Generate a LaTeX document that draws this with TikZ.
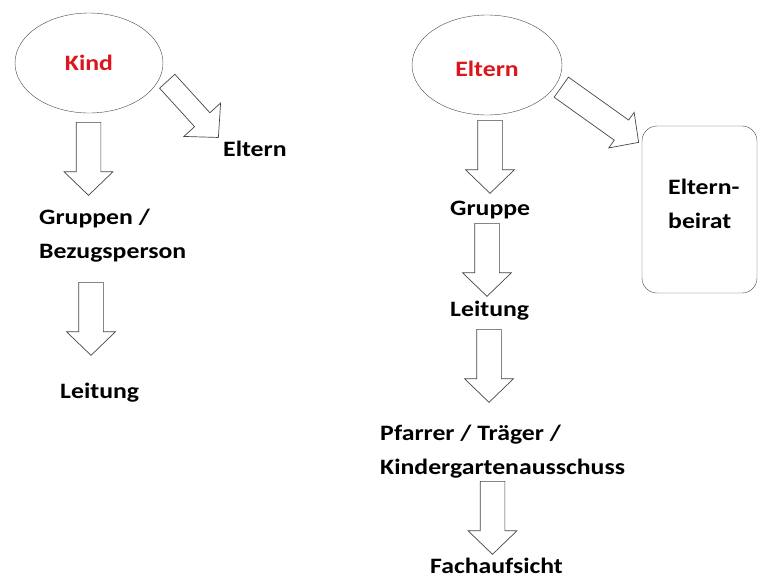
\documentclass[tikz,border=0pt]{standalone}
\usepackage{fontspec}
\setmainfont{Carlito}[FakeStretch=1.17]
\usetikzlibrary{shapes.geometric,shapes.arrows}

\definecolor{kindred}{RGB}{220,22,28}
\definecolor{umriss}{RGB}{70,70,70}

\tikzset{
  wort/.style={font=\fontsize{22}{34}\selectfont\bfseries, inner sep=0pt, align=left},
  blase/.style={ellipse, draw=umriss, wort, text=kindred},
  blockpfeil/.style={single arrow, draw=umriss, line width=0.7pt, fill=white, inner xsep=0pt,
    single arrow head indent=0pt, single arrow tip angle=92, anchor=tail}
}

\begin{document}
\begin{tikzpicture}[x=1pt,y=-1pt]

\useasboundingbox (0,0) rectangle (760,579);

\node[blase, minimum width=148pt, minimum height=100pt] (kind) at (89,63) {Kind};
\node[blase, minimum width=150pt, minimum height=100pt] (eltern) at (487,65) {};
\node[wort, text=kindred, anchor=base] (elterntext) at (487,76) {Eltern};

\node[draw=umriss, rounded corners=15pt, minimum width=115pt, minimum height=167pt]
    (beirat) at (699.5,209.5) {};
\node[wort, anchor=base west] (beirattext) at (668,228) {Eltern-\\beirat};

\node[wort, anchor=base west] (elternL) at (223,156) {Eltern};
\node[wort, anchor=base west] (gruppen) at (39,258) {Gruppen /\\Bezugsperson};
\node[wort, anchor=base west] (leitungL) at (60,398) {Leitung};

\node[wort, anchor=base west] (gruppe) at (450,215) {Gruppe};
\node[wort, anchor=base west] (leitungR) at (450,316) {Leitung};
\node[wort, anchor=base west] (pfarrer) at (380,474) {Pfarrer / Träger /\\Kindergartenausschuss};
\node[wort, anchor=base west] (fach) at (430,573) {Fachaufsicht};

\foreach \n/\x/\y in {kindpfeil/88.5/122, gruppenpfeil/91/282, elternpfeil/490/120,
                      gruppepfeil/487/223, leitungpfeil/489/329, pfarrerpfeil/492.5/481}
    \node[blockpfeil, rotate=-90, minimum height=73pt, inner ysep=12pt,
          single arrow head extend=12pt] (\n) at (\x,\y) {};

\node[blockpfeil, rotate=-47.7, minimum height=76pt, inner ysep=10pt,
      single arrow head extend=14.5pt] (kindeltern) at (167,81) {};
\node[blockpfeil, rotate=-35.5, minimum height=95pt, inner ysep=12pt,
      single arrow head extend=9.5pt] (elternbeirat) at (561,87) {};

\end{tikzpicture}
\end{document}
